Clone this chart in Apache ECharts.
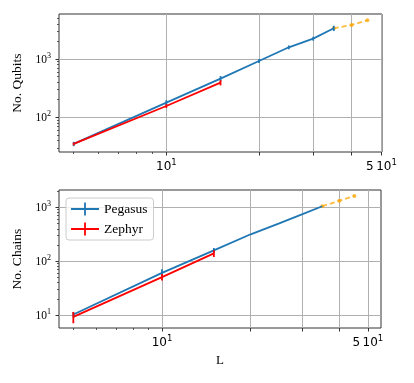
<!DOCTYPE html>
<html>
<head>
<meta charset="utf-8">
<script src="https://cdn.jsdelivr.net/npm/echarts@6/dist/echarts.min.js"></script>
<style>
html,body{margin:0;padding:0;background:#fff;}
#chart{width:414px;height:383px;}
</style>
</head>
<body>
<div id="chart"></div>
<script>
// ---- data ----
const L_peg = [5, 10, 15, 20, 25, 30, 35];
const L_zep = [5, 10, 15];
const L_ext = [35, 40, 45];

const qubits_peg = [35, 178, 459, 924, 1585, 2230, 3360];
const qubits_peg_err = [3, 18, 50, 70, 120, 170, 350];
const qubits_zep = [35, 156, 392];
const qubits_zep_err = [2, 12, 40];
const qubits_ext = [3360, 3830, 4610];

const chains_peg = [10.3, 61, 159, 316, 503, 745, 1045];
const chains_peg_err = [1.2, 10, 17, null, null, null, null];
const chains_zep = [9.3, 50.8, 140];
const chains_zep_err = [2.2, 7, 20];
const chains_ext = [1045, 1320, 1620];

const xMajorTicks = [10, 20, 30, 40, 50];
const xMinorTicks = [5, 6, 7, 8, 9];
const xLabelTicks = [10, 50];
const yMajorTicks = [10, 100, 1000];
const yMinorTicks = [20,30,40,50,60,70,80,90,200,300,400,500,600,700,800,900,2000,3000,4000,5000];

// ---- styling ----
const BLUE = '#1f77b4', RED = '#ff0000', ORANGE = 'rgba(255,165,0,0.75)';
const SERIF = 'Liberation Serif';
const SANS = 'DejaVu Sans';
const AXC = '#333';

function pairs(xs, ys) { return xs.map((x, i) => [x, ys[i]]); }
function errData(xs, ys, es) {
  const out = [];
  xs.forEach((x, i) => { if (es[i] != null) out.push([x, ys[i] - es[i], ys[i] + es[i]]); });
  return out;
}

function xFmt(v) {
  const r = Math.round(v);
  if (r === 50) return '{n|5\u200910}{s|1}';
  return '{n|10}{s|1}';
}
function yFmt(v) {
  return '{n|10}{s|' + Math.round(Math.log10(v)) + '}';
}

function xAxes(grid, min, max, withName) {
  return [{
    type: 'log', gridIndex: grid, position: 'bottom', min: min, max: max,
    axisLine: { show: false },
    axisTick: { show: true, customValues: xMajorTicks, length: 3.5, lineStyle: { color: AXC, width: 1 } },
    splitLine: { show: true, lineStyle: { color: '#b0b0b0', width: 1 } },
    axisLabel: {
      show: true, customValues: xLabelTicks, margin: 6, formatter: xFmt,
      rich: {
        n: { fontFamily: SANS, fontSize: 12, color: '#000', lineHeight: 15, verticalAlign: 'bottom' },
        s: { fontFamily: SANS, fontSize: 8.5, color: '#000', lineHeight: 9, verticalAlign: 'top' }
      }
    },
    name: withName ? 'L' : '', nameLocation: 'middle', nameGap: 26,
    nameTextStyle: { fontFamily: SERIF, fontSize: 13, color: '#000' }
  }, {
    type: 'log', gridIndex: grid, position: 'bottom', min: min, max: max,
    axisLine: { show: false },
    axisTick: { show: true, customValues: xMinorTicks, length: 2, lineStyle: { color: AXC, width: 0.8 } },
    splitLine: { show: false },
    axisLabel: { show: false }
  }];
}

function yAxes(grid, min, max, name, labels) {
  return [{
    type: 'log', gridIndex: grid, position: 'left', min: min, max: max,
    axisLine: { show: false },
    axisTick: { show: true, customValues: yMajorTicks, length: 3.5, lineStyle: { color: AXC, width: 1 } },
    splitLine: { show: true, lineStyle: { color: '#b0b0b0', width: 1 } },
    axisLabel: {
      show: true, customValues: labels, margin: 8, formatter: yFmt,
      rich: {
        n: { fontFamily: SERIF, fontSize: 11.5, color: '#000', lineHeight: 14, verticalAlign: 'bottom' },
        s: { fontFamily: SERIF, fontSize: 8, color: '#000', lineHeight: 8, verticalAlign: 'top' }
      }
    },
    name: name, nameLocation: 'middle', nameGap: 30,
    nameTextStyle: { fontFamily: SERIF, fontSize: 13.5, color: '#000' }
  }, {
    type: 'log', gridIndex: grid, position: 'left', min: min, max: max,
    axisLine: { show: false },
    axisTick: { show: true, customValues: yMinorTicks, length: 2, lineStyle: { color: AXC, width: 0.8 } },
    splitLine: { show: false },
    axisLabel: { show: false }
  }];
}

function lineSeries(name, data, color, xi, yi, extra) {
  return Object.assign({
    type: 'line', name: name, data: data, xAxisIndex: xi, yAxisIndex: yi,
    showSymbol: false, symbol: 'none',
    lineStyle: { color: color, width: 1.8 }, itemStyle: { color: color },
    animation: false, z: 3
  }, extra || {});
}

function errSeries(name, data, color, xi, yi) {
  return {
    type: 'custom', name: name, xAxisIndex: xi, yAxisIndex: yi, data: data,
    encode: { x: 0, y: [1, 2] }, animation: false, z: 4,
    renderItem: function (params, api) {
      const p1 = api.coord([api.value(0), api.value(1)]);
      const p2 = api.coord([api.value(0), api.value(2)]);
      return { type: 'line', shape: { x1: p1[0], y1: p1[1], x2: p2[0], y2: p2[1] },
               style: { stroke: color, lineWidth: 1.8 } };
    }
  };
}

const extStyle = {
  showSymbol: true, symbol: 'circle', symbolSize: 4,
  lineStyle: { color: ORANGE, width: 1.8, type: [5, 3] }, z: 2
};

const legendIcon = 'path://M0,5.6L28,5.6L28,7.4L0,7.4Z M13.1,0L14.9,0L14.9,13L13.1,13Z';

const chart = echarts.init(document.getElementById('chart'), null, { renderer: 'canvas' });
chart.setOption({
  animation: false,
  backgroundColor: '#fff',
  grid: [
    { left: 59, right: 32, top: 14, height: 138, show: true, borderColor: AXC, borderWidth: 1, backgroundColor: 'transparent', outerBoundsMode: 'none' },
    { left: 59, right: 33, top: 190, height: 138, show: true, borderColor: AXC, borderWidth: 1, backgroundColor: 'transparent', outerBoundsMode: 'none' }
  ],
  xAxis: [].concat(xAxes(0, 4.48, 50.2, false), xAxes(1, 4.47, 55.4, true)),
  yAxis: [].concat(yAxes(0, 25.4, 5900, 'No. Qubits', [100, 1000]), yAxes(2, 5.8, 2090, 'No. Chains', [10, 100, 1000]).map(a => Object.assign(a, { gridIndex: 1 }))),
  legend: {
    left: 66, top: 198, orient: 'vertical',
    itemWidth: 28, itemHeight: 13, itemGap: 6,
    padding: [4, 6, 4, 5],
    borderColor: '#cccccc', borderWidth: 1, borderRadius: 3,
    backgroundColor: 'rgba(255,255,255,0.8)',
    textStyle: { fontFamily: SERIF, fontSize: 13.5, color: '#000' },
    data: [{ name: 'Pegasus', icon: legendIcon }, { name: 'Zephyr', icon: legendIcon }]
  },
  series: [
    lineSeries('Pegasus', pairs(L_peg, qubits_peg), BLUE, 0, 0),
    errSeries('peg_err_q', errData(L_peg, qubits_peg, qubits_peg_err), BLUE, 0, 0),
    lineSeries('Zephyr', pairs(L_zep, qubits_zep), RED, 0, 0),
    errSeries('zep_err_q', errData(L_zep, qubits_zep, qubits_zep_err), RED, 0, 0),
    lineSeries('ext_q', pairs(L_ext, qubits_ext), ORANGE, 0, 0, extStyle),

    lineSeries('Pegasus', pairs(L_peg, chains_peg), BLUE, 2, 2),
    errSeries('peg_err_c', errData(L_peg, chains_peg, chains_peg_err), BLUE, 2, 2),
    lineSeries('Zephyr', pairs(L_zep, chains_zep), RED, 2, 2),
    errSeries('zep_err_c', errData(L_zep, chains_zep, chains_zep_err), RED, 2, 2),
    lineSeries('ext_c', pairs(L_ext, chains_ext), ORANGE, 2, 2, extStyle)
  ]
});
</script>
</body>
</html>
